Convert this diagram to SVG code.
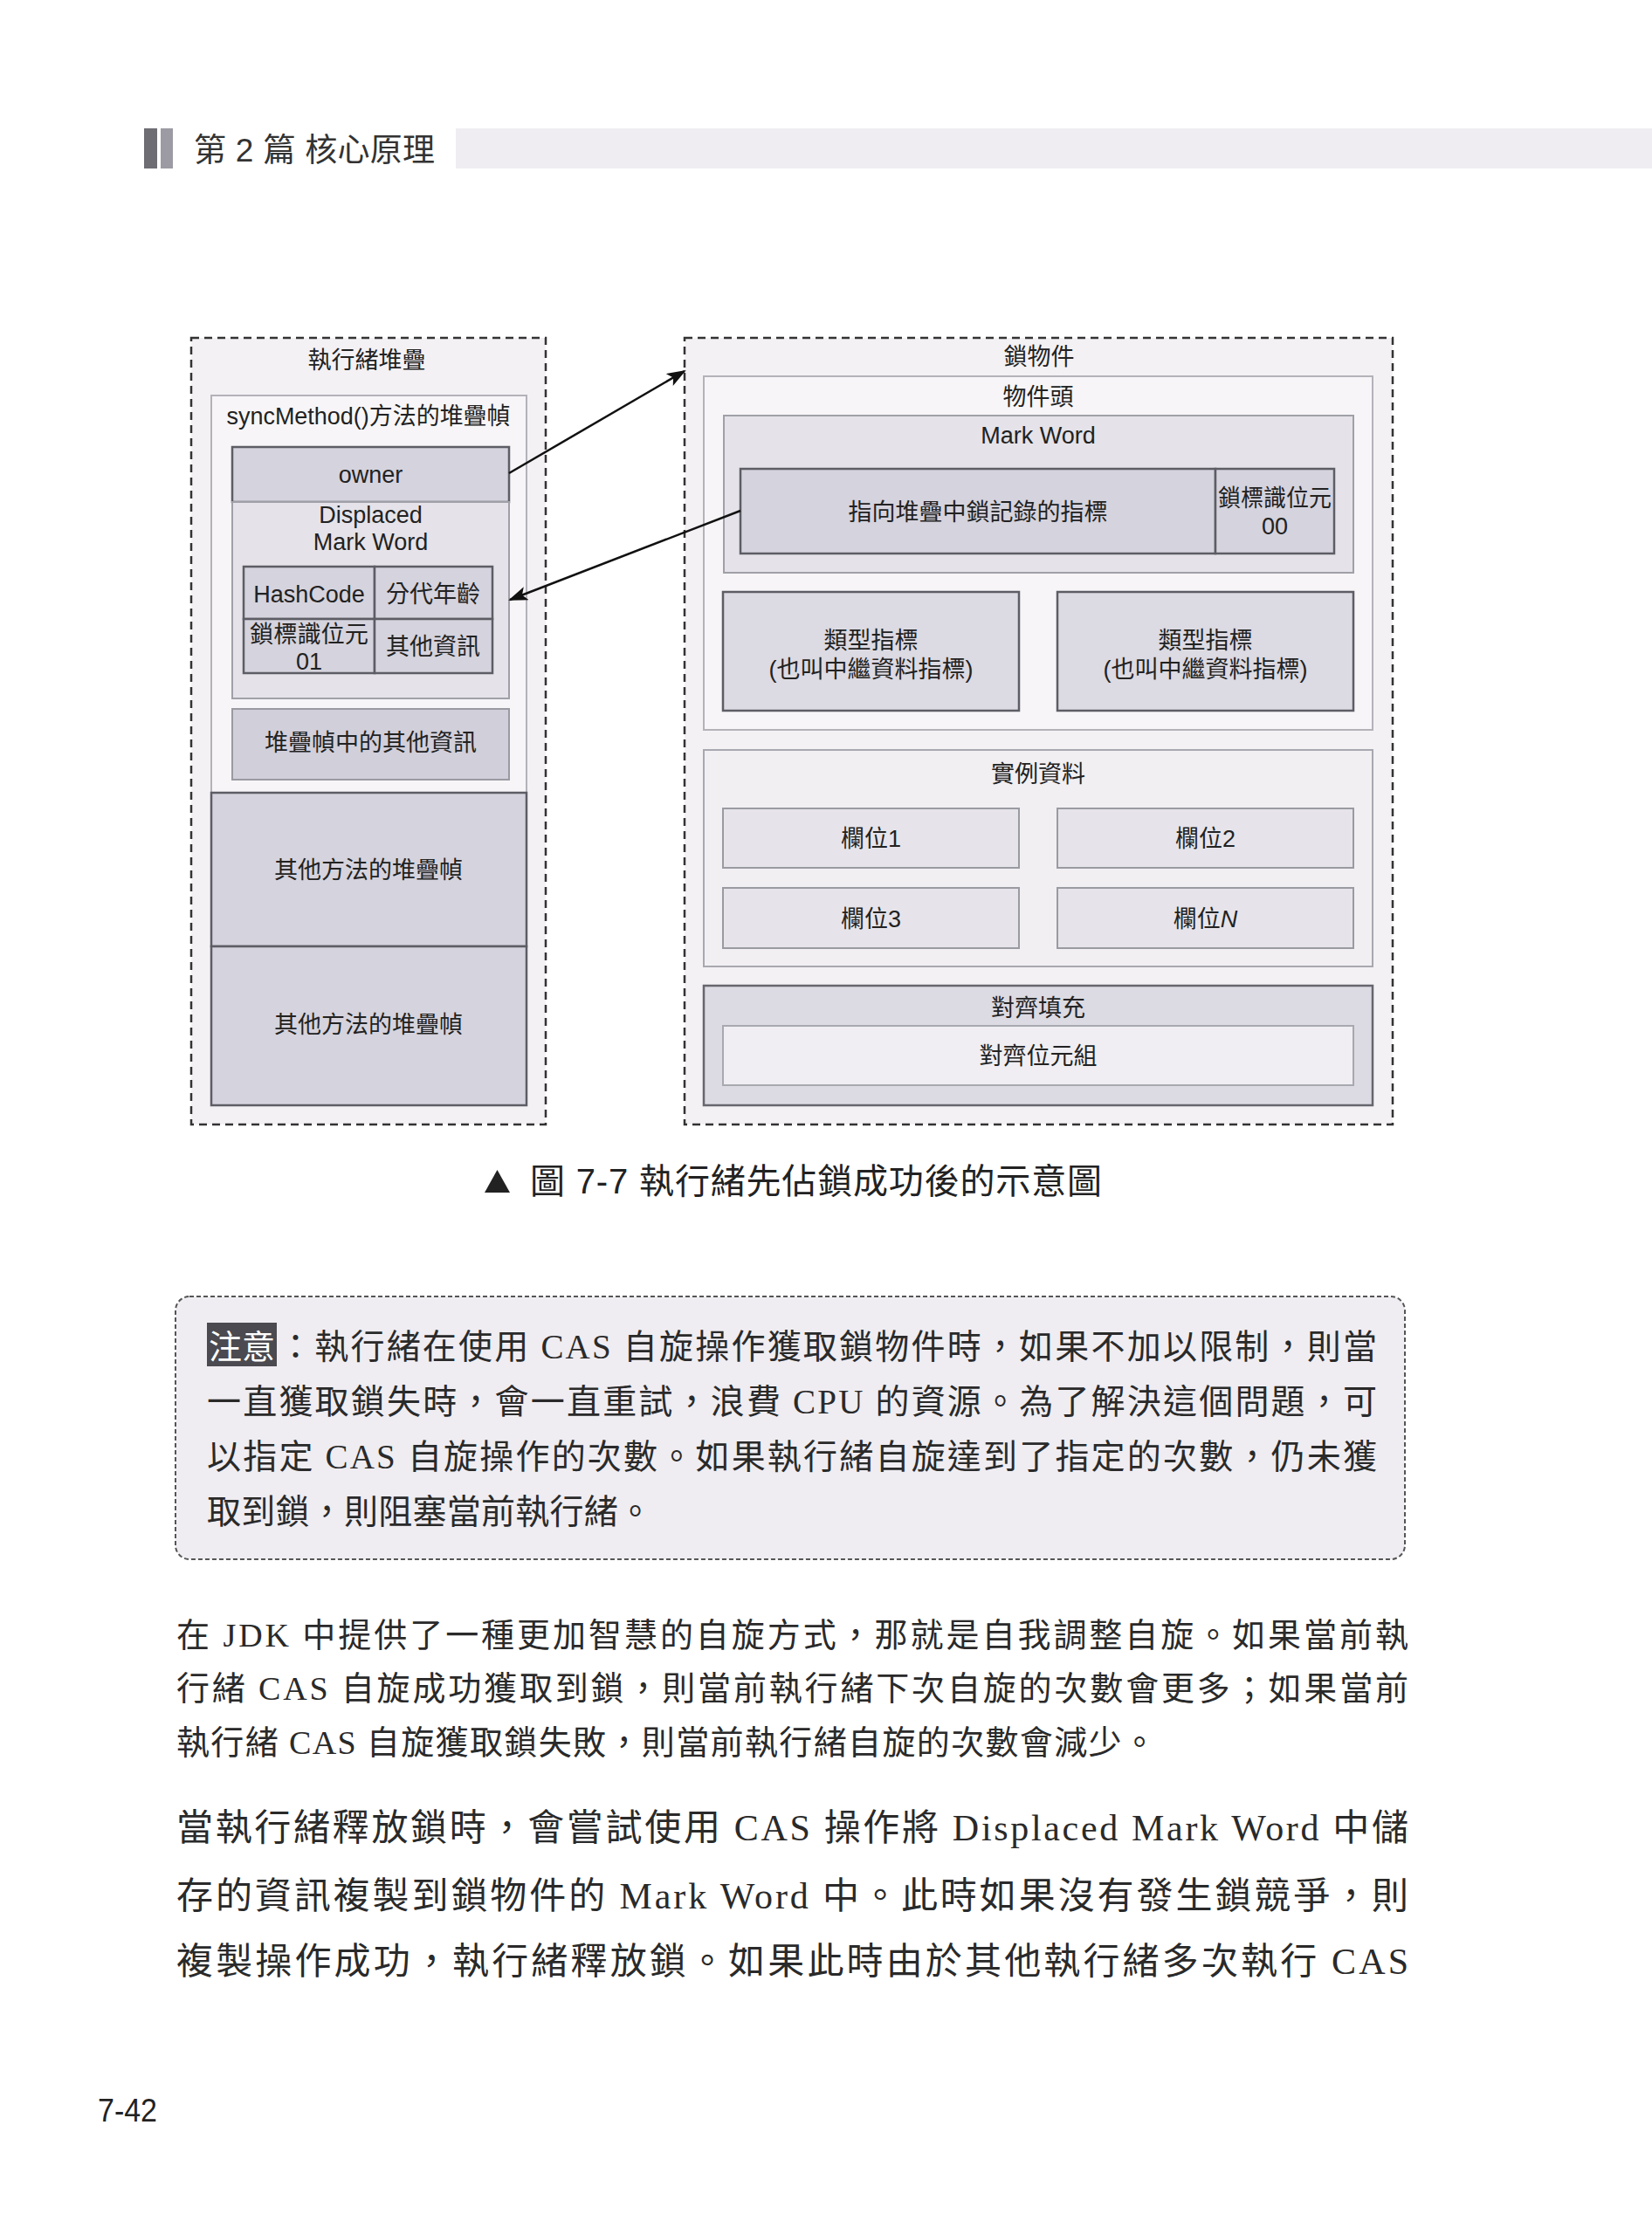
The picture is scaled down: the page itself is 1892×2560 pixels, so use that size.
<svg xmlns="http://www.w3.org/2000/svg" width="1892" height="2560" viewBox="0 0 1892 2560">
<style>
.t{font-family:"Liberation Sans","Noto Sans CJK TC",sans-serif;font-size:27px;fill:#222;text-anchor:middle}
.outer{fill:#f4f1f4;stroke:#333;stroke-width:2.5;stroke-dasharray:9 6}
.frame{fill:#f7f5f7;stroke:#b4b2b9;stroke-width:2}
.mid{fill:#e5e3e9;stroke:#a0a0a8;stroke-width:2}
.dark{fill:#d5d3dd;stroke:#5d5d66;stroke-width:2.5}
.light{fill:#e6e4ea;stroke:#9a9aa2;stroke-width:2}
.body{font-family:"Liberation Serif","Noto Sans CJK TC",serif;fill:#2a2a2a}
.conn{stroke:#111;stroke-width:2.5;fill:none;marker-end:url(#ah)}
</style>
<defs>
<marker id="ah" markerUnits="userSpaceOnUse" markerWidth="22" markerHeight="16" refX="20" refY="8" orient="auto">
<path d="M0,0 L22,8 L0,16 L5,8 Z" fill="#111"/>
</marker>
</defs>
<rect width="1892" height="2560" fill="#ffffff"/>

<g id="header">
<rect x="165" y="147" width="15" height="46" fill="#6e6d74"/>
<rect x="184" y="147" width="14" height="46" fill="#9c9aa3"/>
<text x="222" y="185" font-family="Liberation Sans,Noto Sans CJK TC,sans-serif" font-size="37" fill="#333" textLength="276" lengthAdjust="spacing">第 2 篇  核心原理</text>
<rect x="522" y="147" width="1370" height="46" fill="#efedf2"/>
</g>

<g id="thread-stack">
<rect class="outer" x="219" y="387" width="406" height="901"/>
<text class="t" x="420" y="422">執行緒堆疊</text>
</g>
<g id="sync-frame">
<rect class="frame" x="242" y="453" width="361" height="455"/>
<text class="t" x="422" y="486" textLength="325" lengthAdjust="spacingAndGlyphs">syncMethod()方法的堆疊幀</text>
</g>
<g id="owner">
<rect class="dark" x="266" y="512" width="317" height="63"/>
<text class="t" x="424.5" y="553">owner</text>
</g>
<g id="displaced">
<rect class="mid" x="266" y="575" width="317" height="225"/>
<text class="t" x="424.5" y="599">Displaced</text>
<text class="t" x="424.5" y="630">Mark Word</text>
</g>
<g id="displaced-table">
<rect class="dark" x="279" y="649" width="150" height="60"/>
<rect class="dark" x="429" y="649" width="135" height="60"/>
<rect class="dark" x="279" y="709" width="150" height="62"/>
<rect class="dark" x="429" y="709" width="135" height="62"/>
<text class="t" x="354" y="690">HashCode</text>
<text class="t" x="496" y="690">分代年齡</text>
<text class="t" x="354" y="736" textLength="136" lengthAdjust="spacingAndGlyphs">鎖標識位元</text>
<text class="t" x="354" y="767">01</text>
<text class="t" x="496" y="750">其他資訊</text>
</g>
<g id="frame-other">
<rect x="266" y="812" width="317" height="81" fill="#d1cfda" stroke="#9a9aa2" stroke-width="2"/>
<text class="t" x="424.5" y="860">堆疊幀中的其他資訊</text>
</g>
<g id="other-frame-1">
<rect class="dark" x="242" y="908" width="361" height="176"/>
<text class="t" x="422" y="1006" font-size="28">其他方法的堆疊幀</text>
</g>
<g id="other-frame-2">
<rect class="dark" x="242" y="1084" width="361" height="182"/>
<text class="t" x="422" y="1183" font-size="28">其他方法的堆疊幀</text>
</g>

<g id="lock-object">
<rect class="outer" x="784" y="387" width="811" height="901"/>
<text class="t" x="1190" y="418">鎖物件</text>
</g>
<g id="object-header">
<rect class="frame" x="806" y="431" width="766" height="405"/>
<text class="t" x="1189" y="464">物件頭</text>
</g>
<g id="mark-word">
<rect class="mid" x="829" y="476" width="721" height="180"/>
<text class="t" x="1189" y="508">Mark Word</text>
</g>
<g id="lock-record-pointer">
<rect class="dark" x="848" y="537" width="544" height="97"/>
<text class="t" x="1120" y="596">指向堆疊中鎖記錄的指標</text>
</g>
<g id="lock-bits-00">
<rect class="dark" x="1392" y="537" width="136" height="97"/>
<text class="t" x="1460" y="580" textLength="130" lengthAdjust="spacingAndGlyphs">鎖標識位元</text>
<text class="t" x="1460" y="612">00</text>
</g>
<g id="klass-1">
<rect class="dark" x="828" y="678" width="339" height="136" style="fill:#dcdae2"/>
<text class="t" x="997.5" y="743">類型指標</text>
<text class="t" x="997.5" y="776">(也叫中繼資料指標)</text>
</g>
<g id="klass-2">
<rect class="dark" x="1211" y="678" width="339" height="136" style="fill:#dcdae2"/>
<text class="t" x="1380.5" y="743">類型指標</text>
<text class="t" x="1380.5" y="776">(也叫中繼資料指標)</text>
</g>
<g id="instance-data">
<rect x="806" y="859" width="766" height="248" fill="#f1eff2" stroke="#a8a8b0" stroke-width="2"/>
<text class="t" x="1189" y="896">實例資料</text>
</g>
<g id="field-1">
<rect class="light" x="828" y="926" width="339" height="68"/>
<text class="t" x="997.5" y="970">欄位1</text>
</g>
<g id="field-2">
<rect class="light" x="1211" y="926" width="339" height="68"/>
<text class="t" x="1380.5" y="970">欄位2</text>
</g>
<g id="field-3">
<rect class="light" x="828" y="1017" width="339" height="69"/>
<text class="t" x="997.5" y="1062">欄位3</text>
</g>
<g id="field-n">
<rect class="light" x="1211" y="1017" width="339" height="69"/>
<text class="t" x="1380.5" y="1062">欄位<tspan font-style="italic">N</tspan></text>
</g>
<g id="padding">
<rect x="806" y="1129" width="766" height="137" fill="#dcdae2" stroke="#66666e" stroke-width="2.5"/>
<text class="t" x="1189" y="1164">對齊填充</text>
</g>
<g id="padding-bytes">
<rect x="828" y="1175" width="722" height="68" fill="#f0eef2" stroke="#a8a8b0" stroke-width="2"/>
<text class="t" x="1189" y="1219">對齊位元組</text>
</g>

<g id="connectors">
<line class="conn" x1="583" y1="542" x2="784" y2="425"/>
<line class="conn" x1="848" y1="585" x2="584" y2="687"/>
</g>

<g id="caption">
<path d="M555,1366 L584,1366 L569.5,1340 Z" fill="#222"/>
<text x="607" y="1367" font-family="Liberation Sans,Noto Sans CJK TC,sans-serif" font-size="40" fill="#222" textLength="655" lengthAdjust="spacing">圖 7-7  執行緒先佔鎖成功後的示意圖</text>
</g>

<g id="note">
<rect x="201" y="1485" width="1408" height="301" rx="16" ry="16" fill="#efedf2" stroke="#555" stroke-width="2" stroke-dasharray="5 3"/>
<rect x="237" y="1515" width="80" height="50" fill="#4a4a50"/>
<text x="239" y="1556" font-family="Noto Sans CJK TC,sans-serif" font-size="38" fill="#ffffff" textLength="76" lengthAdjust="spacing">注意</text>
<text class="body" x="319" y="1556" font-size="39" textLength="1258" lengthAdjust="spacing">：執行緒在使用 CAS 自旋操作獲取鎖物件時，如果不加以限制，則當</text>
<text class="body" x="237" y="1619" font-size="39" textLength="1340" lengthAdjust="spacing">一直獲取鎖失時，會一直重試，浪費 CPU 的資源。為了解決這個問題，可</text>
<text class="body" x="237" y="1682" font-size="39" textLength="1340" lengthAdjust="spacing">以指定 CAS 自旋操作的次數。如果執行緒自旋達到了指定的次數，仍未獲</text>
<text class="body" x="237" y="1745" font-size="39" textLength="510" lengthAdjust="spacing">取到鎖，則阻塞當前執行緒。</text>
</g>

<g id="para1">
<text class="body" x="202" y="1886" font-size="38" textLength="1411" lengthAdjust="spacing">在 JDK 中提供了一種更加智慧的自旋方式，那就是自我調整自旋。如果當前執</text>
<text class="body" x="202" y="1947" font-size="38" textLength="1411" lengthAdjust="spacing">行緒 CAS 自旋成功獲取到鎖，則當前執行緒下次自旋的次數會更多；如果當前</text>
<text class="body" x="202" y="2009" font-size="38" textLength="1122" lengthAdjust="spacing">執行緒 CAS 自旋獲取鎖失敗，則當前執行緒自旋的次數會減少。</text>
</g>

<g id="para2">
<text class="body" x="202" y="2108" font-size="42" textLength="1411" lengthAdjust="spacing">當執行緒釋放鎖時，會嘗試使用 CAS 操作將 Displaced Mark Word 中儲</text>
<text class="body" x="202" y="2186" font-size="42" textLength="1411" lengthAdjust="spacing">存的資訊複製到鎖物件的 Mark Word 中。此時如果沒有發生鎖競爭，則</text>
<text class="body" x="202" y="2261" font-size="42" textLength="1411" lengthAdjust="spacing">複製操作成功，執行緒釋放鎖。如果此時由於其他執行緒多次執行 CAS</text>
</g>

<g id="page-number">
<text x="112" y="2430" font-family="Liberation Sans,sans-serif" font-size="36" fill="#222" textLength="68" lengthAdjust="spacingAndGlyphs">7-42</text>
</g>
</svg>
